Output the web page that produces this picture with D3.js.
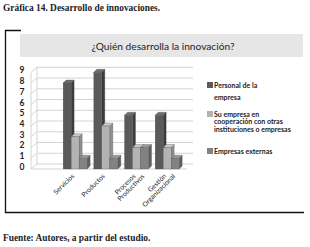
<!DOCTYPE html>
<html>
<head>
<meta charset="utf-8">
<script src="https://cdn.jsdelivr.net/npm/d3@7"></script>
<style>
  body { margin: 0; background: #fff; }
  text { font-family: Lato, "Open Sans", sans-serif; }
</style>
</head>
<body>
<script>
// data
const categories = ["Servicios", "Productos", "Procesos\nProductivos", "Gestión\nOrganizacional"];
const seriesNames = ["Personal de la empresa", "Su empresa en cooperación con otras instituciones o empresas", "Empresas externas"];
const personal = [8, 9, 5, 5];
const cooperacion = [3, 4, 2, 2];
const externas = [1, 1, 2, 1];
const yTicks = [0, 1, 2, 3, 4, 5, 6, 7, 8, 9];
const legendLines = [["Personal de la", "empresa"], ["Su empresa en", "cooperación con otras", "instituciones o empresas"], ["Empresas externas"]];

const values = [personal, cooperacion, externas];
const colors = [
    {front: "#5a5a5a", top: "#6f6f6f", side: "#3c3c3c"},
    {front: "#b3b3b3", top: "#c9c9c9", side: "#8f8f8f"},
    {front: "#828282", top: "#979797", side: "#5f5f5f"}
];

const width = 310, height = 247;
const svg = d3.select("body").append("svg")
    .attr("width", width)
    .attr("height", height);

// caption and source
svg.append("text")
    .attr("x", 3).attr("y", 11)
    .style("font-family", '"Liberation Serif", serif')
    .style("font-size", "9.4px")
    .style("font-weight", "bold")
    .attr("fill", "#222")
    .text("Gráfica 14. Desarrollo de innovaciones.");

svg.append("text")
    .attr("x", 3).attr("y", 241)
    .style("font-family", '"Liberation Serif", serif')
    .style("font-size", "9.4px")
    .style("font-weight", "bold")
    .attr("fill", "#222")
    .text("Fuente: Autores, a partir del estudio.");

// frame
svg.append("path")
    .attr("d", "M21,30.5 H5.5 V212.5 H304")
    .attr("fill", "none")
    .attr("stroke", "#111")
    .attr("stroke-width", 1.3);

// title box
svg.append("rect")
    .attr("x", 20).attr("y", 34)
    .attr("width", 283).attr("height", 23)
    .attr("fill", "#e6e6e6");

svg.append("text")
    .attr("x", 163).attr("y", 49.5)
    .attr("text-anchor", "middle")
    .style("font-size", "10.2px")
    .attr("fill", "#222")
    .text("¿Quién desarrolla la innovación?");

// scales (front plane), back wall is shifted by depth
const depth = {dx: 6, dy: -5};
const y = d3.scaleLinear().domain([0, 9]).range([169, 72.3]);
const x = d3.scaleBand().domain(categories).range([57, 185.3])
    .paddingInner(0.218).paddingOuter(0.2);
const xs = d3.scaleBand().domain(d3.range(values.length)).range([0, x.bandwidth()]);
const wallLeft = 31, wallRight = 193;

// 3D grid
const grid = svg.append("g")
    .attr("fill", "none")
    .attr("stroke", "#d4d4d4")
    .attr("stroke-width", 1);

grid.selectAll("path.grid")
    .data(yTicks)
    .join("path")
    .attr("class", "grid")
    .attr("d", d => `M${wallLeft},${y(d)} L${wallLeft + depth.dx},${y(d) + depth.dy} H${wallRight}`);

grid.append("path")
    .attr("d", `M${wallLeft},${y(0)} V${y(9)} M${wallLeft + depth.dx},${y(0) + depth.dy} V${y(9) + depth.dy} M${wallLeft},${y(0)} H${wallRight - depth.dx}`);

// y axis labels
svg.append("g")
    .selectAll("text")
    .data(yTicks)
    .join("text")
    .attr("x", 22)
    .attr("y", d => y(d) - 2)
    .attr("dy", "0.35em")
    .attr("text-anchor", "middle")
    .style("font-size", "8.5px")
    .style("font-weight", "bold")
    .attr("fill", "#222")
    .text(d => d);

// bars with a small 3D depth
const bd = {dx: 3, dy: -3};
const groups = svg.append("g")
    .selectAll("g.cat")
    .data(categories)
    .join("g")
    .attr("class", "cat")
    .attr("transform", d => `translate(${x(d)},0)`);

groups.each(function (cat, ci) {
    const g = d3.select(this);
    values.forEach(function (series, si) {
        const x0 = xs(si), x1 = xs(si) + xs.bandwidth();
        const top = y(series[ci]), base = y(0);
        const c = colors[si];
        // side face
        g.append("path")
            .attr("d", `M${x1},${base} L${x1 + bd.dx},${base + bd.dy} L${x1 + bd.dx},${top + bd.dy} L${x1},${top} Z`)
            .attr("fill", c.side)
            .attr("stroke", "#444").attr("stroke-width", 0.3);
        // top face
        g.append("path")
            .attr("d", `M${x0},${top} L${x0 + bd.dx},${top + bd.dy} L${x1 + bd.dx},${top + bd.dy} L${x1},${top} Z`)
            .attr("fill", c.top)
            .attr("stroke", "#444").attr("stroke-width", 0.3);
        // front face
        g.append("rect")
            .attr("x", x0).attr("y", top)
            .attr("width", xs.bandwidth())
            .attr("height", base - top)
            .attr("fill", c.front)
            .attr("stroke", "#555").attr("stroke-width", 0.3);
    });
});

// x labels, rotated; second line sits below the first
const xl = svg.append("g")
    .selectAll("text")
    .data(categories)
    .join("text")
    .attr("transform", d => `translate(${x(d) + x.bandwidth() / 2 + 1},175) rotate(-45)`)
    .attr("text-anchor", "end")
    .style("font-size", "6.7px")
    .attr("fill", "#222");

xl.each(function (d) {
    const lines = d.split("\n");
    const t = d3.select(this);
    lines.forEach(function (line, i) {
        t.append("tspan")
            .attr("x", i === 0 ? -2 : 4)
            .attr("dy", i === 0 ? 0 : 6.5)
            .text(line);
    });
});

// legend
const legendY = [88, 117, 154];
const legend = svg.append("g")
    .selectAll("g")
    .data(seriesNames)
    .join("g")
    .attr("transform", (d, i) => `translate(207,${legendY[i]})`);

legend.append("rect")
    .attr("x", 0).attr("y", -6)
    .attr("width", 6).attr("height", 6)
    .attr("fill", (d, i) => colors[i].front);

legend.append("text")
    .attr("x", 7)
    .style("font-size", "7px")
    .style("font-weight", "bold")
    .attr("fill", "#222")
    .each(function (d, i) {
        const t = d3.select(this);
        const lh = legendLines[i].length > 2 ? 7.4 : 12;
        legendLines[i].forEach(function (line, j) {
            t.append("tspan")
                .attr("x", 7)
                .attr("dy", j === 0 ? 0 : lh)
                .text(line);
        });
    });
</script>
</body>
</html>
